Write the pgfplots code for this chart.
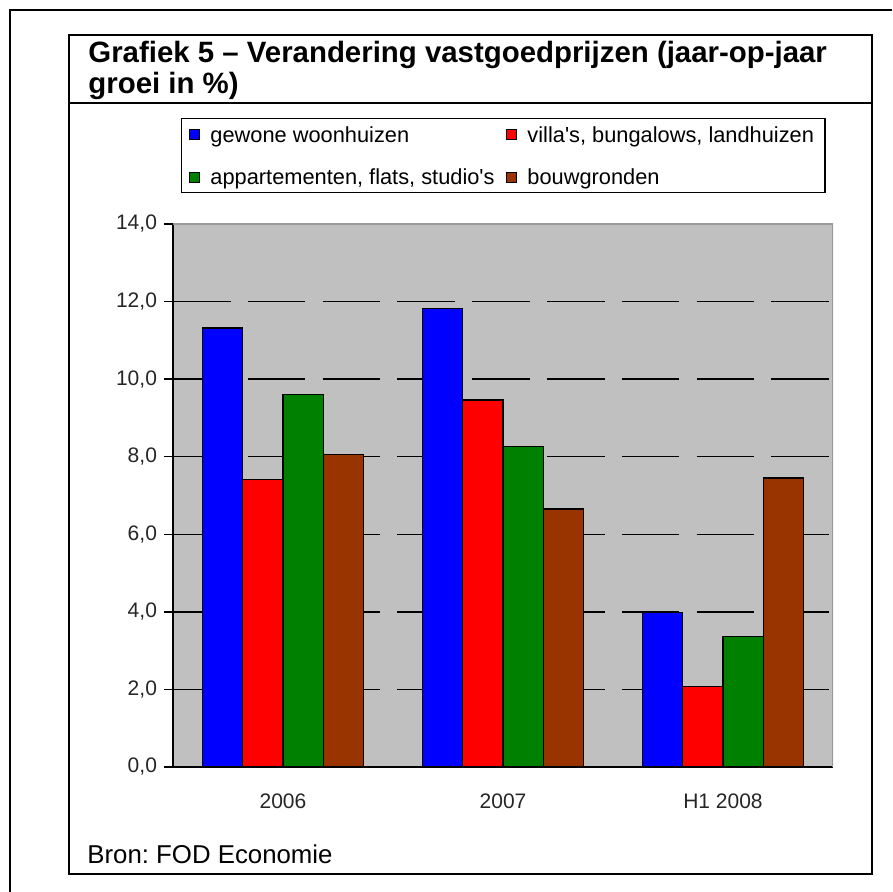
\documentclass[border=0pt]{standalone}
\usepackage{fontspec}
\setmainfont{Liberation Sans}
\usepackage{pgfplots}
\pgfplotsset{compat=1.18}
\frenchspacing
\definecolor{cblue}{HTML}{0000FF}
\definecolor{cred}{HTML}{FF0000}
\definecolor{cgreen}{HTML}{008000}
\definecolor{cbrown}{HTML}{993300}
\definecolor{cgray}{HTML}{C0C0C0}
\definecolor{cborder}{HTML}{9A9A9A}
\begin{document}
\begin{tikzpicture}[x=0.5pt,y=0.5pt]
\useasboundingbox (0,0) rectangle (892,892);
\draw[line width=1pt] (10,0) -- (10,882) -- (892,882);
\draw[line width=1pt] (69,18) rectangle (872,857);
\draw[line width=1pt] (69,789) -- (872,789);
\node[anchor=base west, inner sep=0, font=\fontsize{14.7}{17}\selectfont\bfseries] at (88,829) {Grafiek 5 – Verandering vastgoedprijzen (jaar-op-jaar};
\node[anchor=base west, inner sep=0, font=\fontsize{14.7}{17}\selectfont\bfseries] at (88,798) {groei in \%)};
\node[anchor=base west, inner sep=0, font=\fontsize{12.9}{15}\selectfont] at (87,28) {Bron: FOD Economie};
\begin{axis}[
  at={(86.5pt,62.5pt)}, anchor=south west,
  scale only axis, width=330pt, height=271.5pt,
  xmin=-0.5, xmax=2.5, ymin=0, ymax=14,
  axis x line*=bottom, axis y line*=left,
  axis line style={-, line width=0.65pt, black},
  axis background/.style={fill=cgray},
  tick align=outside,
  major tick length=4.5pt, minor tick length=3pt,
  tick style={black, line width=0.65pt},
  ytick={0,2,...,14},
  /pgf/number format/assume math mode=true,
  yticklabel style={/pgf/number format/fixed, /pgf/number format/precision=1, /pgf/number format/fixed zerofill, /pgf/number format/use comma},
  xtick={0,1,2}, xticklabels={2006,2007,H1 2008},
  xtick style={draw=none},
  minor xtick={-0.5,0.5,1.5,2.5},
  x tick label style={yshift=-5.5pt},
  tick label style={font=\fontsize{10.5}{12}\selectfont, text=black!85},
  extra y ticks={2,4,...,12}, extra y tick labels={},
  extra y tick style={grid=major, tick style={draw=none}},
  major grid style={black, line width=0.7pt, dash pattern=on 28.75pt off 8.65pt},
  legend columns=2, legend cell align=left,
  legend image code/.code={\draw[#1, draw=black, line width=0.3pt] (0pt,-2.5pt) rectangle (5pt,2.5pt); \path (8.5pt,0pt);},
  legend style={at={(0.01212,1.1952)}, anchor=north west, draw=black, line width=0.6pt,
    font=\fontsize{10.9}{13}\selectfont, /tikz/every even column/.append style={column sep=3.5pt},
    nodes={text depth=0pt},
    row sep=9.3pt, inner xsep=3.5pt, inner ysep=2pt},
]
\addplot[ybar, bar width=0.1827, bar shift=-0.274, fill=cblue, draw=black, line width=0.6pt] coordinates {(0,11.32) (1,11.83) (2,3.99)};
\addlegendentry{gewone woonhuizen}
\addplot[ybar, bar width=0.1827, bar shift=-0.0913, fill=cred, draw=black, line width=0.6pt] coordinates {(0,7.42) (1,9.46) (2,2.07)};
\addlegendentry{villa\textquotesingle s, bungalows, landhuizen}
\addplot[ybar, bar width=0.1827, bar shift=0.0913, fill=cgreen, draw=black, line width=0.6pt] coordinates {(0,9.61) (1,8.27) (2,3.36)};
\addlegendentry{appartementen, flats, studio\textquotesingle s}
\addplot[ybar, bar width=0.1827, bar shift=0.274, fill=cbrown, draw=black, line width=0.6pt] coordinates {(0,8.06) (1,6.65) (2,7.45)};
\addlegendentry{bouwgronden}
\draw[cborder, line width=0.6pt] (rel axis cs:0,1) -- (rel axis cs:1,1) -- (rel axis cs:1,0);
\end{axis}
\end{tikzpicture}
\end{document}
